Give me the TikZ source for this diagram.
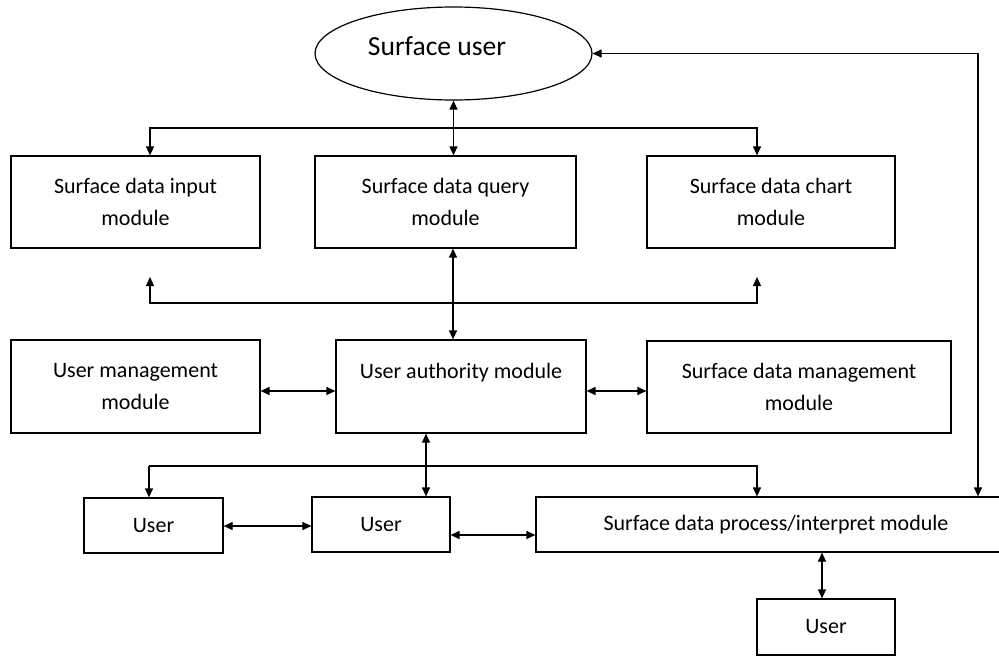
\documentclass[tikz,border=0pt]{standalone}
\usepackage{fontspec}
\setmainfont{Carlito}
\usetikzlibrary{arrows.meta,shapes.geometric}
\begin{document}
\begin{tikzpicture}[x=1pt,y=1pt,
  line width=1.2pt,
  box/.style={draw, rectangle, align=center, inner sep=0pt, font=\fontsize{22}{32}\selectfont},
  conn/.style={line width=1.2pt, {Triangle[length=9pt,width=8pt]}-{Triangle[length=9pt,width=8pt]}},
  conn1/.style={line width=1.2pt, -{Triangle[length=9pt,width=8pt]}}]
\useasboundingbox (0,0) rectangle (999,-656);
% ellipse
\node[draw, ellipse, minimum width=277, minimum height=93, inner sep=0pt] (su) at (453.5,-53.5) {};
\node[font=\fontsize{27.6}{32}\selectfont, inner sep=0pt] (sut) at (437,-46) {Surface user};
% top row
\node[box, minimum width=249, minimum height=92] (in) at (135.5,-202) {Surface data input\\module};
\node[box, minimum width=261, minimum height=92] (qu) at (445.5,-202) {Surface data query\\module};
\node[box, minimum width=248, minimum height=92] (ch) at (771,-202) {Surface data chart\\module};
% middle row
\node[box, minimum width=249, minimum height=93] (um) at (135.5,-386.5) {User management\\module};
\node[box, minimum width=250, minimum height=93] (ua) at (461,-386.5) {User authority module\\\phantom{module}};
\node[box, minimum width=304, minimum height=92] (sdm) at (799,-387) {Surface data management\\module};
% bottom row
\node[box, minimum width=139, minimum height=55] (u1) at (153.5,-525.5) {User};
\node[box, minimum width=138, minimum height=55] (u2) at (381,-524.5) {User};
\node[box, minimum width=480, minimum height=55] (pr) at (776,-524.5) {Surface data process/interpret module};
\node[box, minimum width=138, minimum height=56] (u3) at (826,-627) {User};
% coordinates
\coordinate (tl) at (150,-128);
\coordinate (tr) at (757,-128);
\coordinate (ml) at (150,-303);
\coordinate (mr) at (757,-303);
\coordinate (mlt) at (150,-277);
\coordinate (mrt) at (757,-277);
\coordinate (bl) at (149,-466);
\coordinate (br) at (757,-466);
\coordinate (ux) at (426,-466);
\coordinate (rc) at (978,-53.5);
\coordinate (qx) at (453,-250);
\coordinate (p3) at (822,-560);
% connectors
\draw[conn] (su.south) -- (su.south |- qu.north);
\draw[conn] (tl |- in.north) -- (tl) -- (tr) -- (tr |- ch.north);
\draw[conn] (mlt) -- (ml) -- (mr) -- (mrt);
\draw[conn] (qx |- qu.south) -- (qx |- ua.north);
\draw[conn] (um.east |- 0,-391) -- (ua.west |- 0,-391);
\draw[conn] (ua.east |- 0,-391) -- (sdm.west |- 0,-391);
\draw[conn] (ux |- ua.south) -- (ux |- u2.north);
\draw[conn1] (bl) -- (bl |- u1.north);
\draw[conn1] (bl) -- (br) -- (br |- pr.north);
\draw[conn] (u1.east |- 0,-526) -- (u2.west |- 0,-526);
\draw[conn] (u2.east |- 0,-535) -- (pr.west |- 0,-535);
\draw[conn] (p3 |- pr.south) -- (p3 |- u3.north);
\draw[conn] (su.east) -- (rc) -- (rc |- pr.north);
\end{tikzpicture}
\end{document}
